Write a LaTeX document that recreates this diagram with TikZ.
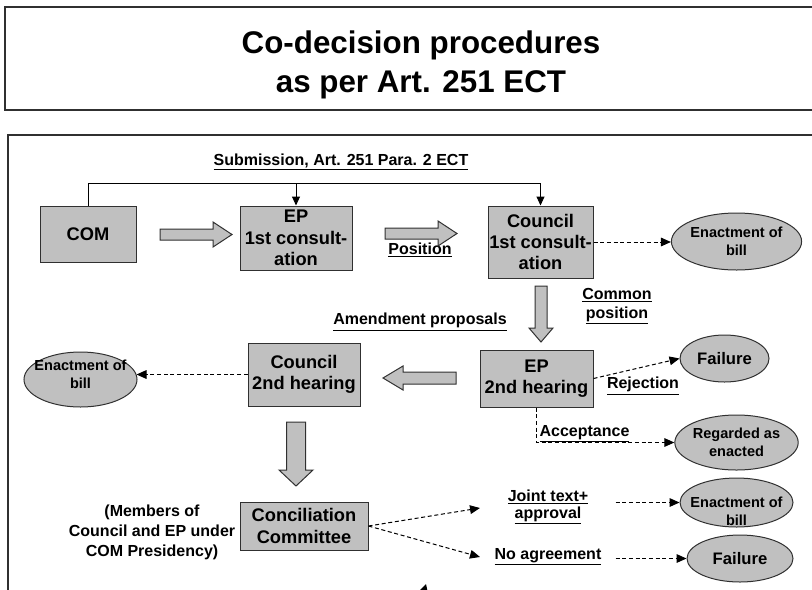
\documentclass[tikz,border=0pt]{standalone}
\usepackage{fontspec}
\setmainfont{Liberation Sans}
\usetikzlibrary{arrows.meta,calc,shapes.geometric}
\definecolor{boxgray}{HTML}{C0C0C0}
\definecolor{edge}{HTML}{303030}
\tikzset{
  sz/.style 2 args={minimum width=#1*0.75pt, minimum height=#2*0.75pt},
  frame/.style={draw=edge, line width=1.1pt},
  stepbox/.style={draw=edge, line width=0.75pt, fill=boxgray, inner sep=0pt, align=center,
    font=\fontsize{13.7}{16}\selectfont\bfseries},
  ell/.style={ellipse, draw=edge, line width=0.75pt, fill=boxgray, inner sep=0pt, align=center,
    font=\fontsize{10.9}{13.5}\selectfont\bfseries},
  elltext/.style={inner sep=0pt, align=center, font=\fontsize{10.9}{13.5}\selectfont\bfseries},
  failtext/.style={font=\fontsize{12.5}{14}\selectfont\bfseries},
  lbl/.style={inner sep=0pt, align=center, font=\fontsize{12}{14}\selectfont\bfseries},
  blk/.style={draw=edge, line width=0.75pt, fill=boxgray, line join=miter},
  solidarrow/.style={draw=black, line width=0.75pt, -{Triangle[length=6.75pt,width=6pt]}},
  dashline/.style={draw=black, line width=0.75pt, dash pattern=on 3pt off 2pt,
    -{Triangle[length=7.5pt,width=6.5pt]}},
}
\begin{document}
\begin{tikzpicture}[x=0.75pt,y=-0.75pt]
\useasboundingbox (0,0) rectangle (812,589);
% frames
\draw[frame] (5,7) rectangle (850,110);
\draw[frame] (8,135) rectangle (850,650);
% title
\node[align=center, inner sep=0pt, font=\fontsize{23.5}{29.25}\selectfont\bfseries] (title) at (421,65)
  {Co-decision procedures\\as per Art. 251 ECT};

% boxes
\node[stepbox, sz={96}{56}] (com) at (88,234) {COM};
\node[stepbox, sz={112}{64}] (ep1) at (296,238) {EP\\1st consult-\\ation};
\node[stepbox, sz={105}{72}] (co1) at (540.5,242) {Council\\1st consult-\\ation};
\node[stepbox, sz={113}{57}] (ep2) at (536.5,378.5) {EP\\2nd hearing};
\node[stepbox, sz={112}{63}] (co2) at (304,374.5) {Council\\2nd hearing};
\node[stepbox, sz={128}{48}] (conc) at (304,526) {Conciliation\\Committee};

% ellipses
\node[ell, sz={113}{57}] (en1) at (736.5,241.5) {Enactment of\\bill};
\node[ell, sz={89}{47}, failtext] (fail1) at (724.5,358.5) {Failure};
\node[ell, sz={113}{55}] (reg) at (736.5,442.5) {Regarded as\\enacted};
\node[ell, sz={113}{55}] (en2) at (80.5,379.5) {};
\node[elltext] at ($(en2)+(0,-5)$) {Enactment of\\bill};
\node[ell, sz={113}{49}] (en3) at (736.5,502.5) {};
\node[elltext] at ($(en3)+(0,9)$) {Enactment of\\bill};
\node[ell, sz={106}{47}, failtext] (fail2) at (740,558.5) {Failure};

% labels
\node[lbl] (sub) at (341,162) {\underline{Submission, Art. 251 Para. 2 ECT}};
\node[lbl] (pos) at (420,250) {\underline{Position}};
\node[lbl] (amend) at (420,322) {\underline{Amendment proposals}};
\node[lbl, font=\fontsize{12}{14.25}\selectfont\bfseries] (common) at (617,306) {\underline{Common}\\\underline{position}};
\node[lbl] (rej) at (643,386) {\underline{Rejection}};
\node[lbl] (acc) at (584.5,434) {\underline{Acceptance}};
\node[lbl, font=\fontsize{12}{12.75}\selectfont\bfseries] (joint) at (548,507) {\underline{Joint text+}\\\underline{approval}};
\node[lbl] (noag) at (548,557) {\underline{No agreement}};
\node[lbl, font=\fontsize{12}{15}\selectfont\bfseries] (members) at (152,532)
  {(Members of\\Council and EP under\\COM Presidency)};

% submission connector
\coordinate (top) at (0,183);
\draw[line width=0.75pt] (com.north) |- (top -| co1.north);
\draw[solidarrow] (top -| co1.north) -- (co1.north);
\draw[solidarrow] (top -| ep1.north) -- (ep1.north);

% block arrows
\coordinate (b1) at (160,234.5);
\draw[blk] ($(b1)+(0,-5.5)$) -- ++(53,0) -- ++(0,-7) -- ++(19,12.5) -- ++(-19,12.5) -- ++(0,-7) -- ++(-53,0) -- cycle;
\coordinate (b2) at (385,233.5);
\draw[blk] ($(b2)+(0,-5.5)$) -- ++(53,0) -- ++(0,-7) -- ++(19,12.5) -- ++(-19,12.5) -- ++(0,-7) -- ++(-53,0) -- cycle;
\coordinate (b3) at (541,286);
\draw[blk] ($(b3)+(-6,0)$) -- ++(0,42) -- ++(-6,0) -- ++(12,14) -- ++(12,-14) -- ++(-6,0) -- ++(0,-42) -- cycle;
\coordinate (b4) at (456,378);
\draw[blk] ($(b4)+(0,-6)$) -- ++(-53,0) -- ++(0,-6) -- ++(-20,12) -- ++(20,12) -- ++(0,-6) -- ++(53,0) -- cycle;
\coordinate (b5) at (296,422);
\draw[blk] ($(b5)+(-9.5,0)$) -- ++(0,48) -- ++(-7.5,0) -- ++(17,16) -- ++(17,-16) -- ++(-7.5,0) -- ++(0,-48) -- cycle;

% dashed connectors
\draw[dashline] (co1.east) -- (co1.east -| en1.west);
\draw[dashline] (co2.west) -- ($(co2.west -| en2.east)+(-1,0)$);
\draw[dashline] (ep2.east) -- (fail1.west);
\draw[dashline] (ep2.south) |- (reg.west);
\coordinate (jt) at (480,508);
\coordinate (na) at (480,557);
\draw[dashline] (conc.east) -- (jt);
\draw[dashline] (conc.east) -- (na);
\draw[dashline] ([xshift=20.25pt]joint.east |- en3.west) -- (en3.west);
\draw[dashline] ([xshift=10.5pt]noag.east |- fail2.west) -- (fail2.west);

% partial arrowhead at the bottom edge
\fill[black] (426,584) -- (419,591) -- (427.5,591) -- cycle;
\end{tikzpicture}
\end{document}
